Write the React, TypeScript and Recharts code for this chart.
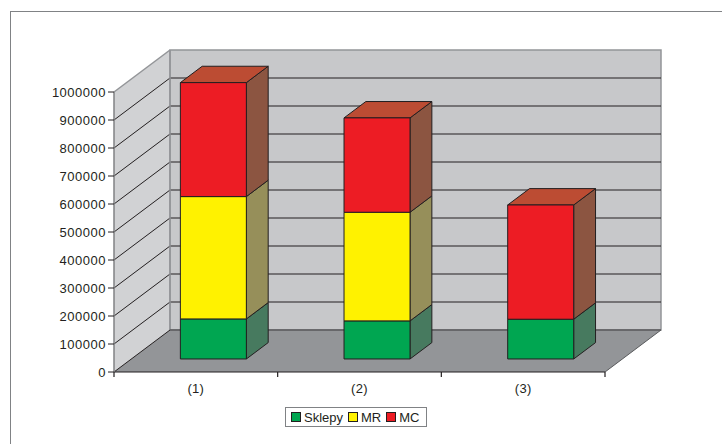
import { BarChart, Bar, XAxis, YAxis, ReferenceArea, Legend } from 'recharts';

const categories = ['(1)', '(2)', '(3)'];
const sklepy = [143000, 136000, 142000];
const mr = [437000, 388000, 0];
const mc = [407000, 337000, 408000];
const yTicks = [0, 100000, 200000, 300000, 400000, 500000, 600000, 700000, 800000, 900000, 1000000];
const yMax = 1000000;

const seriesInfo = [
  { key: 'sklepy', name: 'Sklepy', color: '#00A651', side: '#477A5F' },
  { key: 'mr', name: 'MR', color: '#FFF200', side: '#968F5A' },
  { key: 'mc', name: 'MC', color: '#ED1C24', side: '#8C5541', top: '#BC4C33' },
];

const data = categories.map((name, i) => ({ name, sklepy: sklepy[i], mr: mr[i], mc: mc[i] }));

// full depth of the floor, and where the boxes sit inside it
const DX = 56;
const DY = 42;
const FRONT = 0.31;
const DEPTH = 0.39;
const FONT = '"Liberation Sans", Arial, sans-serif';
const INK = '#231F20';

const box = (front: string, side: string, top?: string) => (props: any) => {
  const { x, y, width, height } = props;
  if (!height || height <= 0) return <g />;
  const fx = x + DX * FRONT;
  const fy = y - DY * FRONT;
  const sx = DX * DEPTH;
  const sy = DY * DEPTH;
  const r = fx + width;
  return (
    <g stroke={INK} strokeWidth={1} strokeLinejoin="round">
      <polygon points={`${r},${fy} ${r + sx},${fy - sy} ${r + sx},${fy + height - sy} ${r},${fy + height}`} fill={side} />
      {top && <polygon points={`${fx},${fy} ${r},${fy} ${r + sx},${fy - sy} ${fx + sx},${fy - sy}`} fill={top} />}
      <rect x={fx} y={fy} width={width} height={height} fill={front} />
    </g>
  );
};

const Walls = (props: any) => {
  const { x, y, width, height } = props;
  const bottom = y + height;
  const right = x + width;
  const yOf = (v: number) => bottom - (height * v) / yMax;
  return (
    <g>
      <polygon points={`${x},${bottom} ${x},${y} ${x + DX},${y - DY} ${x + DX},${bottom - DY}`} fill="#D1D2D4" />
      <rect x={x + DX} y={y - DY} width={width} height={height} fill="#C7C8CA" stroke="#939598" strokeWidth={1.5} />
      <polygon points={`${x},${bottom} ${right},${bottom} ${right + DX},${bottom - DY} ${x + DX},${bottom - DY}`} fill="#939598" />
      {yTicks.filter((t) => t > 0 && t < yMax).map((t) => (
        <g key={t} stroke={INK} strokeWidth={1}>
          <line x1={x} y1={yOf(t)} x2={x + DX} y2={yOf(t) - DY} />
          <line x1={x + DX} y1={yOf(t) - DY} x2={right + DX} y2={yOf(t) - DY} />
        </g>
      ))}
      <line x1={x} y1={y} x2={x + DX} y2={y - DY} stroke="#939598" strokeWidth={1.5} />
      <line x1={x + DX} y1={y - DY} x2={x + DX} y2={bottom - DY} stroke="#939598" strokeWidth={1.5} />
      <line x1={x} y1={bottom} x2={x + DX} y2={bottom - DY} stroke={INK} strokeWidth={1} />
      <line x1={x + DX} y1={bottom - DY} x2={right + DX} y2={bottom - DY} stroke="#58595B" strokeWidth={1.5} />
      <line x1={right} y1={bottom} x2={right + DX} y2={bottom - DY} stroke="#58595B" strokeWidth={1} />
      {[0, 1, 2, 3].map((i) => (
        <line key={i} x1={x + (width * i) / 3} y1={bottom} x2={x + (width * i) / 3} y2={bottom + 5} stroke={INK} strokeWidth={1.2} />
      ))}
    </g>
  );
};

const LegendBox = () => (
  <div
    style={{
      display: 'flex',
      alignItems: 'center',
      height: 20,
      boxSizing: 'border-box',
      border: '1px solid #808285',
      paddingLeft: 5,
      fontFamily: FONT,
      fontSize: 13,
      color: INK,
      background: '#fff',
    }}
  >
    {seriesInfo.map((s) => (
      <span key={s.key} style={{ display: 'flex', alignItems: 'center', marginRight: 5 }}>
        <span style={{ width: 8, height: 8, background: s.color, border: `1px solid ${INK}`, marginRight: 3 }} />
        {s.name}
      </span>
    ))}
  </div>
);

export default function App() {
  return (
    <div style={{ position: 'absolute', left: 0, top: 0, width: 722, height: 444, background: '#fff' }}>
      <div
        style={{
          position: 'absolute',
          left: 10,
          top: 11,
          width: 712,
          height: 433,
          borderTop: '1px solid #808285',
          borderLeft: '1px solid #808285',
          boxSizing: 'border-box',
        }}
      />
      <BarChart
        width={722}
        height={444}
        data={data}
        margin={{ top: 92, right: 117, left: 54, bottom: 42 }}
        style={{ position: 'absolute', left: 0, top: 0 }}
      >
        <ReferenceArea y1={0} y2={yMax} shape={<Walls />} />
        <XAxis
          dataKey="name"
          height={30}
          tickLine={false}
          tickSize={6}
          tickMargin={6}
          axisLine={{ stroke: INK, strokeWidth: 1.2 }}
          tick={{ fill: INK, fontSize: 13, fontFamily: FONT, letterSpacing: 0.3 }}
        />
        <YAxis
          width={60}
          domain={[0, yMax]}
          ticks={yTicks}
          interval={0}
          tickSize={6}
          tickMargin={2}
          axisLine={{ stroke: '#808285', strokeWidth: 1.5 }}
          tickLine={{ stroke: INK }}
          tick={{ fill: INK, fontSize: 13, fontFamily: FONT, letterSpacing: 0.5 }}
        />
        {seriesInfo.map((s) => (
          <Bar
            key={s.key}
            dataKey={s.key}
            name={s.name}
            stackId="a"
            barSize={66}
            fill={s.color}
            isAnimationActive={false}
            shape={box(s.color, s.side, s.top)}
          />
        ))}
        <Legend
          layout="horizontal"
          verticalAlign="middle"
          align="center"
          content={<LegendBox />}
          wrapperStyle={{ left: 285, top: 407, width: 142, height: 20 }}
        />
      </BarChart>
    </div>
  );
}
